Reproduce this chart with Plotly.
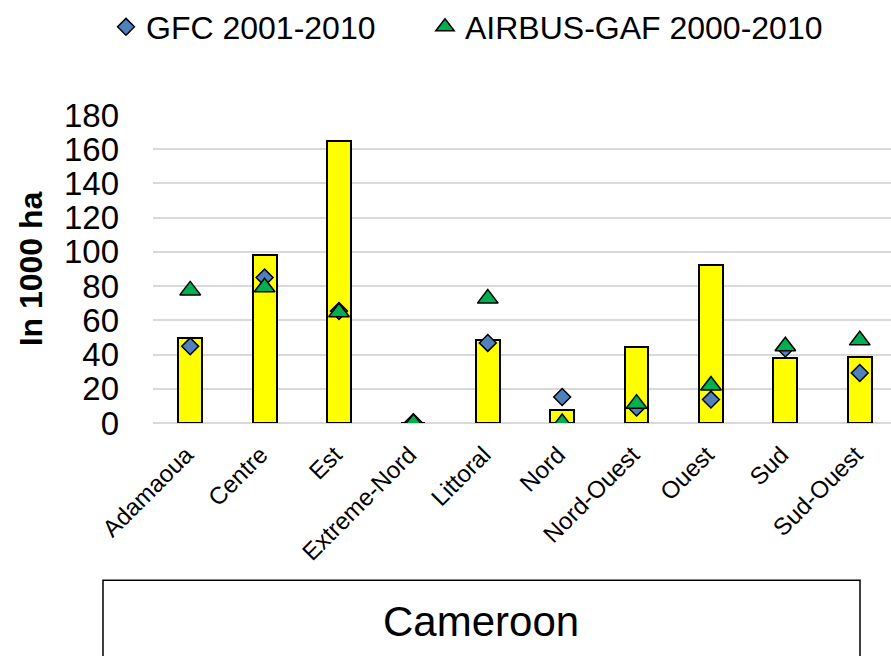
import plotly.graph_objects as go

# Regions of Cameroon
regions = ["Adamaoua", "Centre", "Est", "Extreme-Nord", "Littoral",
           "Nord", "Nord-Ouest", "Ouest", "Sud", "Sud-Ouest"]

# Forest loss per region, in 1000 ha
bar_loss = [49.6, 98, 165, 0, 48.3, 7.8, 44.2, 92.3, 37.8, 38.6]
gfc_loss = [44.8, 85, 65.5, 0.5, 46.8, 15.2, 9, 13.7, 43.5, 29.2]
airbus_loss = [77.5, 79.3, 64.7, 0, 72.7, 0, 11.3, 21.9, 44.9, 48.3]

y_ticks = list(range(0, 181, 20))

FONT = "Liberation Sans, Arial, sans-serif"

fig = go.Figure()

fig.add_trace(go.Bar(
    x=regions, y=bar_loss, width=0.32,
    marker=dict(color="#ffff00", line=dict(color="black", width=2)),
    showlegend=False, name="",
))
fig.add_trace(go.Scatter(
    x=regions, y=gfc_loss, mode="markers", name="GFC 2001-2010",
    marker=dict(symbol="diamond", size=13, color="#4f81bd",
                line=dict(color="black", width=1.5)),
    legend="legend",
))
fig.add_trace(go.Scatter(
    x=regions, y=airbus_loss, mode="markers", name="AIRBUS-GAF 2000-2010",
    marker=dict(symbol="triangle-up", size=18, color="#00b050",
                line=dict(color="black", width=1.5)),
    legend="legend2",
))

# plot area: left 153 px, right edge at the page edge
PLOT_L, PLOT_R, PLOT_T, PLOT_B = 153, 891, 114.7, 422.7
W, H = 891, 656
pw, ph = PLOT_R - PLOT_L, PLOT_B - PLOT_T


def px(x):
    return (x - PLOT_L) / pw


def py(y):
    return (PLOT_B - y) / ph


def legend_at(left):
    return dict(
        orientation="h", xref="container", yref="container",
        x=left / W, xanchor="left", y=1 - 27 / H, yanchor="middle",
        font=dict(size=32, family=FONT, color="black"),
        itemsizing="trace", itemwidth=30,
        bgcolor="rgba(0,0,0,0)",
    )


fig.update_layout(
    width=W, height=H,
    margin=dict(l=PLOT_L, r=W - PLOT_R, t=PLOT_T, b=H - PLOT_B),
    paper_bgcolor="white", plot_bgcolor="white",
    font=dict(family=FONT, color="black"),
    bargap=0,
    legend=legend_at(106),
    legend2=legend_at(425),
    xaxis=dict(
        range=[-0.5, 9.42], tickangle=-45, showgrid=False,
        tickfont=dict(size=24, family=FONT, color="black"),
        ticklabelstandoff=12, ticklabelshift=-4,
        showline=False, zeroline=False, ticks="",
    ),
    yaxis=dict(
        range=[0, 180], tickvals=y_ticks, ticktext=[str(v) for v in y_ticks],
        showgrid=True, gridcolor="#d9d9d9", gridwidth=2,
        zeroline=True, zerolinecolor="#d9d9d9", zerolinewidth=2,
        tickfont=dict(size=33, family=FONT, color="black"),
        ticklabelstandoff=33,
        title=dict(text="<b>In 1000 ha</b>", standoff=11,
                   font=dict(size=32, family=FONT, color="black")),
    ),
    shapes=[dict(
        type="rect", xref="paper", yref="paper",
        x0=px(103), x1=px(860), y0=py(580), y1=py(700),
        line=dict(color="black", width=1.5), fillcolor="rgba(0,0,0,0)",
    )],
    annotations=[dict(
        text="Cameroon", xref="paper", yref="paper",
        x=px(481), y=py(621), xanchor="center", yanchor="middle",
        showarrow=False, font=dict(size=42, family=FONT, color="black"),
    )],
)

fig.write_html("out.html")
